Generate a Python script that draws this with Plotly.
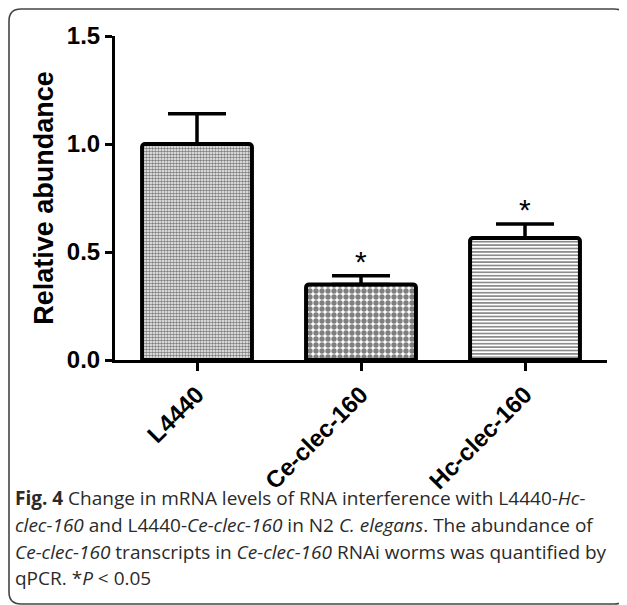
import plotly.graph_objects as go

categories = ["L4440", "Ce-clec-160", "Hc-clec-160"]
values = [1.0, 0.35, 0.565]
err_upper = [0.14, 0.04, 0.065]
significant = ["", "*", "*"]
y_ticks = [0.0, 0.5, 1.0, 1.5]

caption_lines = [
    "<b>Fig. 4</b> Change in mRNA levels of RNA interference with L4440-<i>Hc-</i>",
    "<i>clec-160</i> and L4440-<i>Ce-clec-160</i> in N2 <i>C. elegans</i>. The abundance of",
    "<i>Ce-clec-160</i> transcripts in <i>Ce-clec-160</i> RNAi worms was quantified by",
    "qPCR. *<i>P</i> &lt; 0.05",
]

# page body has an 8px margin; the figure sits at (8, 8)
OFF = 8
W, H = 627 - OFF, 605 - OFF
L, T = 115 - OFF, 36 - OFF
R = W - (607 - OFF)
B = H - (360 - OFF)
PW, PH = W - L - R, H - T - B


def px(x):
    return (x - OFF - L) / PW


def py(y):
    return (H - B - (y - OFF)) / PH


patterns = [
    dict(shape=".", size=3, solidity=0.6, fgcolor="black", bgcolor="white"),
    dict(shape=".", size=6, solidity=0.62, fgcolor="black", bgcolor="white"),
    dict(shape="-", size=3.4, solidity=0.45, fgcolor="black", bgcolor="white"),
]

fig = go.Figure()
for i, c in enumerate(categories):
    fig.add_trace(go.Bar(
        x=[c], y=[values[i]], width=0.67,
        marker=dict(color="white", pattern=patterns[i],
                    line=dict(color="black", width=4), cornerradius=3),
        error_y=dict(type="data", symmetric=False, array=[err_upper[i]],
                     arrayminus=[0], color="black", thickness=3.5, width=29),
        showlegend=False,
    ))

annotations = []
for i, c in enumerate(categories):
    if significant[i]:
        annotations.append(dict(
            x=c, y=values[i] + err_upper[i], xref="x", yref="y",
            text=significant[i], showarrow=False, yanchor="bottom",
            yshift=-4, font=dict(family="Liberation Sans", size=30, color="black"),
        ))

ys = [498, 525, 552, 578]
for line, yy in zip(caption_lines, ys):
    annotations.append(dict(
        x=px(13), y=py(yy), xref="paper", yref="paper", xanchor="left",
        yanchor="middle", text=line, showarrow=False,
        font=dict(family="Open Sans", size=19, color="#2a2a2a"),
    ))

# rounded border
x0, y0, x1, y1, r = 9, 9, 626, 604, 12
path = (
    f"M {px(x0 + r)} {py(y0)} L {px(x1 - r)} {py(y0)} "
    f"Q {px(x1)} {py(y0)} {px(x1)} {py(y0 + r)} L {px(x1)} {py(y1 - r)} "
    f"Q {px(x1)} {py(y1)} {px(x1 - r)} {py(y1)} L {px(x0 + r)} {py(y1)} "
    f"Q {px(x0)} {py(y1)} {px(x0)} {py(y1 - r)} L {px(x0)} {py(y0 + r)} "
    f"Q {px(x0)} {py(y0)} {px(x0 + r)} {py(y0)} Z"
)

fig.update_layout(
    width=W, height=H,
    margin=dict(l=L, r=R, t=T, b=B, autoexpand=False),
    plot_bgcolor="white", paper_bgcolor="white",
    annotations=annotations,
    shapes=[dict(type="path", path=path, xref="paper", yref="paper",
                 line=dict(color="#444444", width=1.6), layer="below")],
    font=dict(family="Liberation Sans", color="black"),
)
fig.update_xaxes(
    range=[-0.5, 2.5], showline=True, linewidth=3, linecolor="black",
    ticks="outside", ticklen=8, tickwidth=3, tickcolor="black",
    tickangle=-45, tickfont=dict(family="Liberation Sans", size=24, weight="bold"),
    showgrid=False, zeroline=False,
)
fig.update_yaxes(
    range=[0, 1.5], tickvals=y_ticks, tickformat=".1f",
    showline=True, linewidth=3, linecolor="black",
    ticks="outside", ticklen=7, tickwidth=3, tickcolor="black",
    tickfont=dict(family="Liberation Sans", size=24, weight="bold"),
    title=dict(text="<b>Relative abundance</b>", standoff=6,
               font=dict(family="Liberation Sans", size=27)),
    showgrid=False, zeroline=False,
)

fig.write_html("out.html")
